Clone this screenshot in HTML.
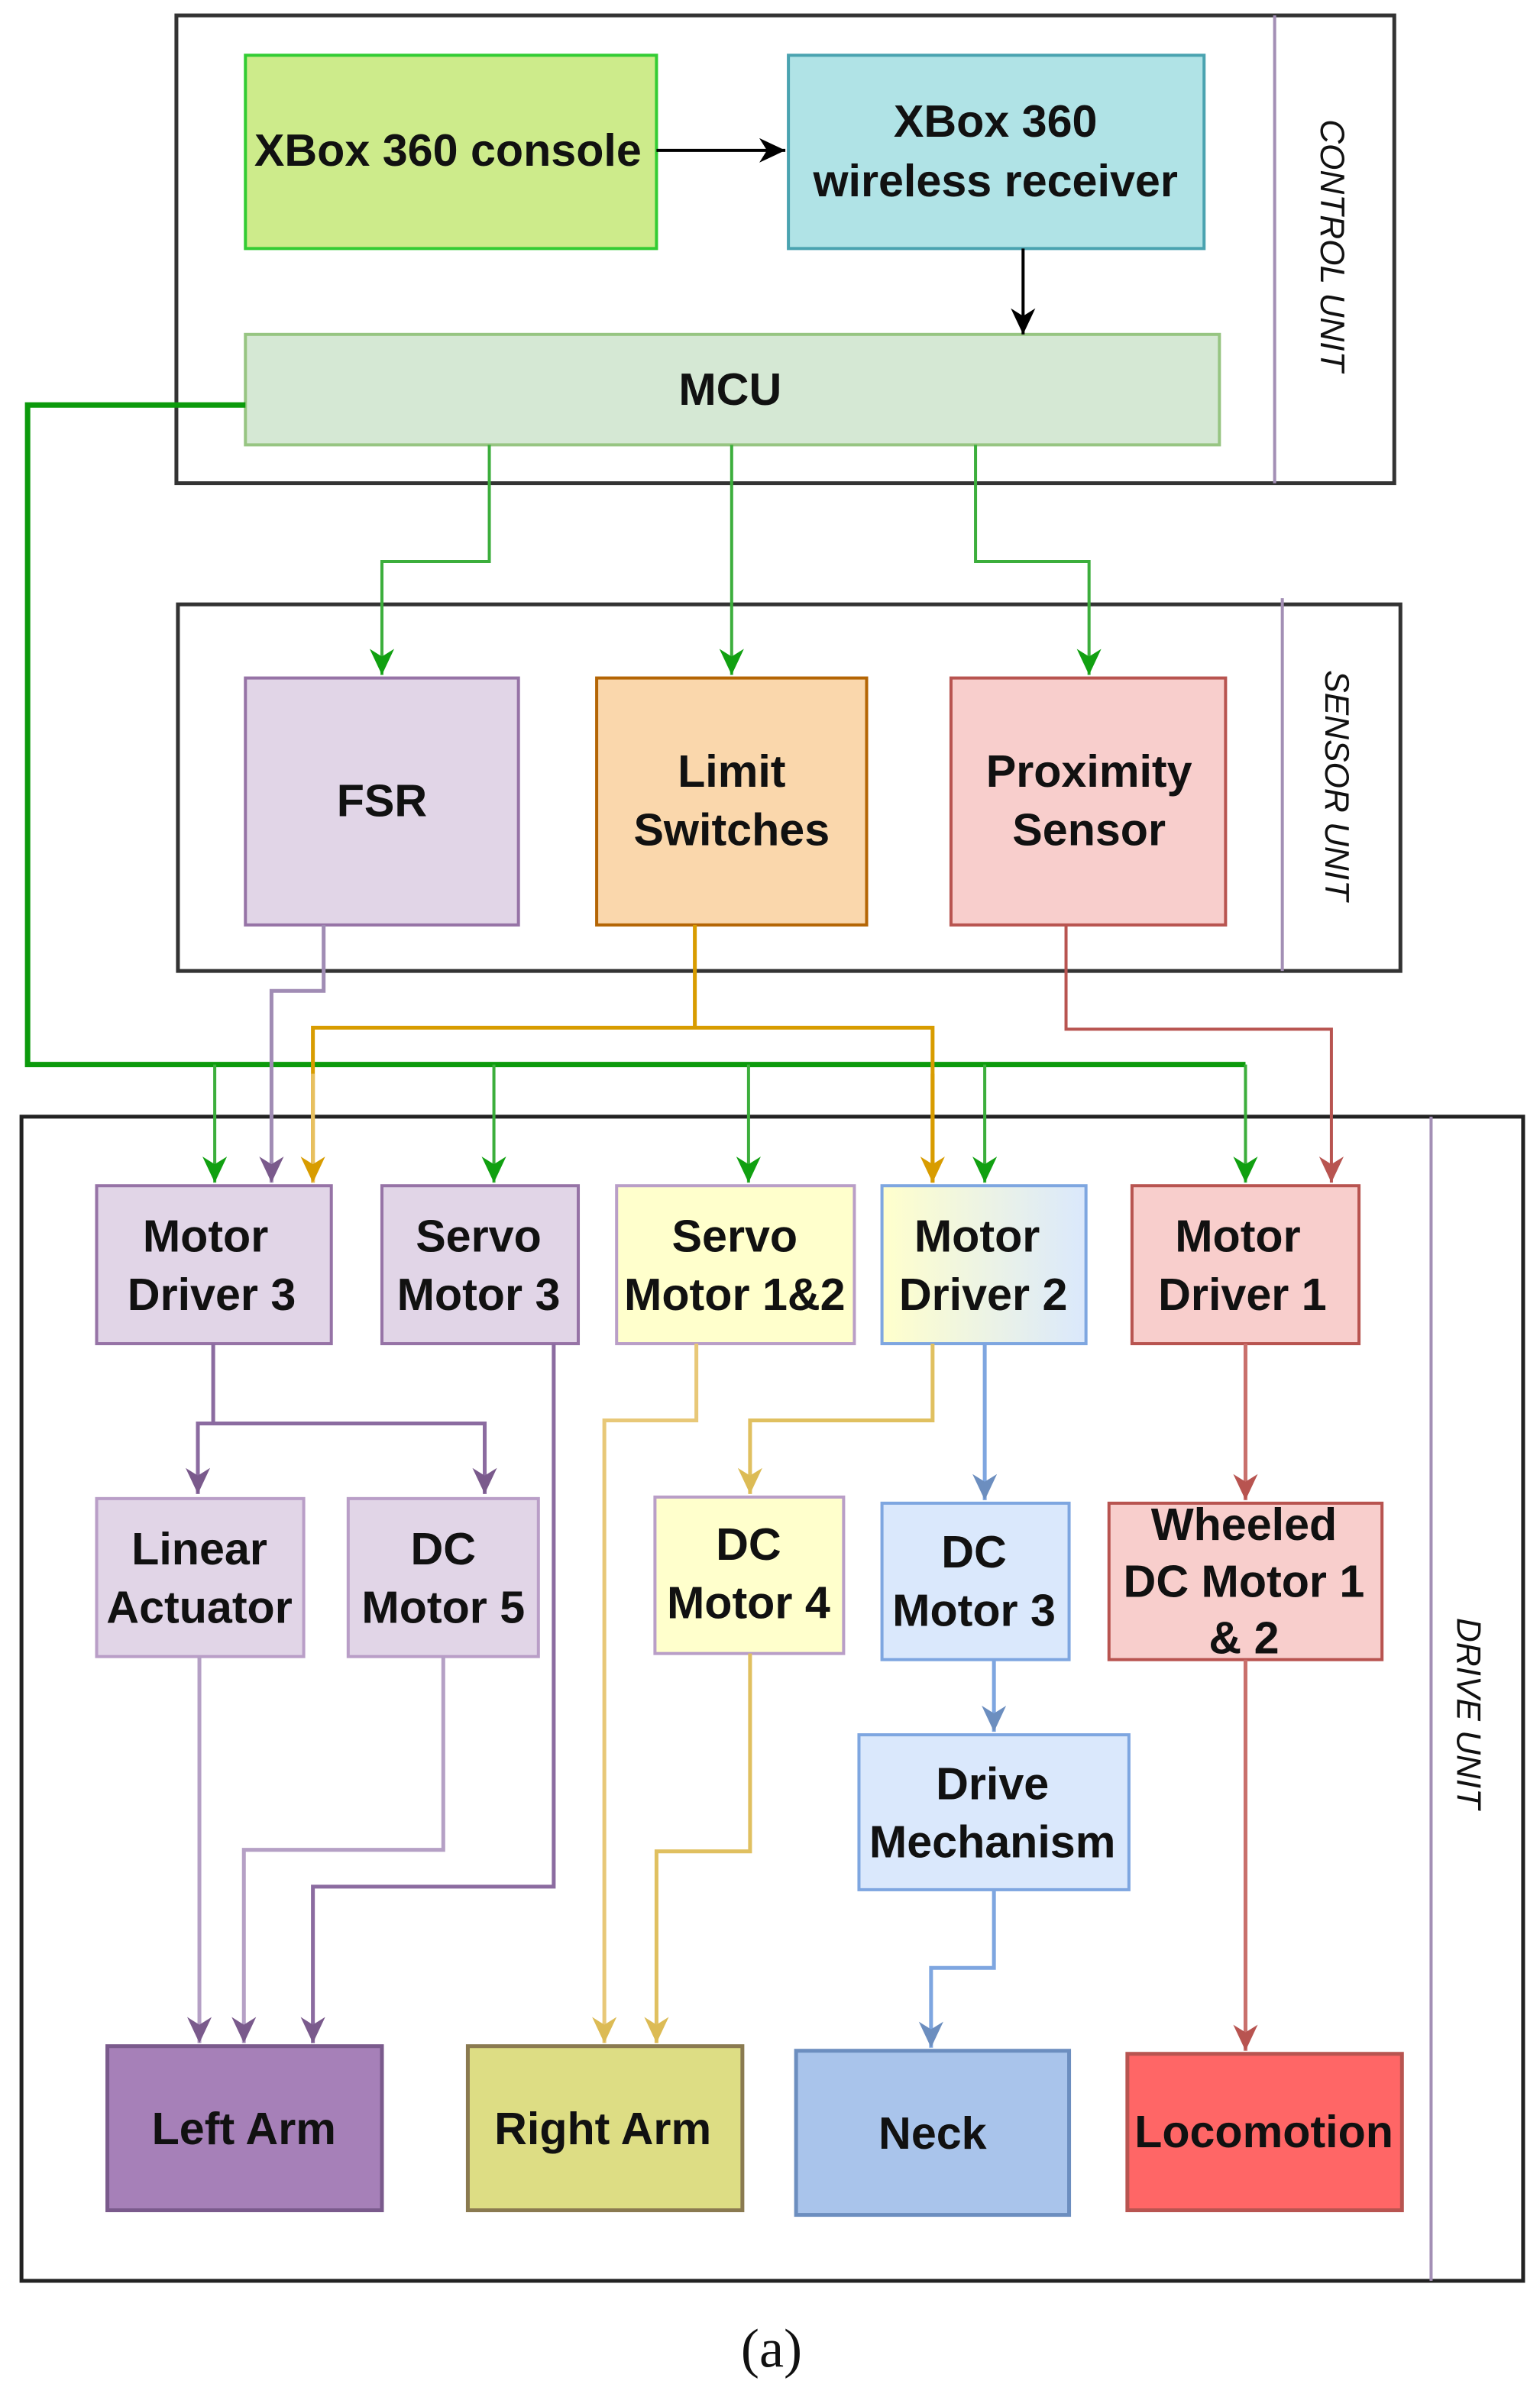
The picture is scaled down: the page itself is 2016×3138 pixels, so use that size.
<!DOCTYPE html>
<html><head><meta charset="utf-8"><style>
html,body{margin:0;padding:0;background:#fff;}
svg{display:block;}
text{font-family:"Liberation Sans",Arial,sans-serif;font-weight:bold;fill:#111;}
.t{font-size:29.5px;}
</style></head><body>
<svg width="2016" height="3138" viewBox="0 0 1004 1562.7" xmlns="http://www.w3.org/2000/svg">
<defs>
<linearGradient id="gMD2" x1="0" y1="0" x2="1" y2="0"><stop offset="0" stop-color="#ffffcc"/><stop offset="1" stop-color="#dae8fc"/></linearGradient>
<marker id="aK" markerUnits="userSpaceOnUse" markerWidth="20" markerHeight="20" refX="17" refY="8" orient="auto"><path d="M0,0 L17,8 L0,16 L5,8 Z" fill="#000"/></marker>
<marker id="aG" markerUnits="userSpaceOnUse" markerWidth="20" markerHeight="20" refX="17" refY="8" orient="auto"><path d="M0,0 L17,8 L0,16 L5,8 Z" fill="#11a011"/></marker>
<marker id="aP" markerUnits="userSpaceOnUse" markerWidth="20" markerHeight="20" refX="17" refY="8" orient="auto"><path d="M0,0 L17,8 L0,16 L5,8 Z" fill="#7a5a8c"/></marker>
<marker id="aO" markerUnits="userSpaceOnUse" markerWidth="20" markerHeight="20" refX="17" refY="8" orient="auto"><path d="M0,0 L17,8 L0,16 L5,8 Z" fill="#d89c00"/></marker>
<marker id="aR" markerUnits="userSpaceOnUse" markerWidth="20" markerHeight="20" refX="17" refY="8" orient="auto"><path d="M0,0 L17,8 L0,16 L5,8 Z" fill="#b85450"/></marker>
<marker id="aY" markerUnits="userSpaceOnUse" markerWidth="20" markerHeight="20" refX="17" refY="8" orient="auto"><path d="M0,0 L17,8 L0,16 L5,8 Z" fill="#dcbb55"/></marker>
<marker id="aB" markerUnits="userSpaceOnUse" markerWidth="20" markerHeight="20" refX="17" refY="8" orient="auto"><path d="M0,0 L17,8 L0,16 L5,8 Z" fill="#6c8ebf"/></marker>
</defs>

<rect x="115" y="10" width="794" height="305" fill="#fff" stroke="#333" stroke-width="2.5"/>
<line x1="831" y1="10" x2="831" y2="315" stroke="#a38fb5" stroke-width="2"/>
<text transform="translate(861,160) rotate(90)" text-anchor="middle" font-size="22" style="font-weight:normal;font-style:italic">CONTROL UNIT</text>

<rect x="116" y="394" width="797" height="239" fill="#fff" stroke="#333" stroke-width="2.5"/>
<line x1="836" y1="390" x2="836" y2="633" stroke="#a38fb5" stroke-width="2"/>
<text transform="translate(864,512) rotate(90)" text-anchor="middle" font-size="22" style="font-weight:normal;font-style:italic">SENSOR UNIT</text>

<rect x="14" y="728" width="979" height="759" fill="#fff" stroke="#222" stroke-width="2.5"/>
<line x1="933" y1="728" x2="933" y2="1487" stroke="#a38fb5" stroke-width="2"/>
<text transform="translate(950,1117) rotate(90)" text-anchor="middle" font-size="22" style="font-weight:normal;font-style:italic">DRIVE UNIT</text>

<rect x="160" y="36" width="268" height="126" fill="#cdeb8b" stroke="#33cc33" stroke-width="2"/>
<text class="t" x="292" y="108" text-anchor="middle">XBox 360 console</text>
<rect x="514" y="36" width="271" height="126" fill="#b0e3e6" stroke="#4aa3b0" stroke-width="2"/>
<text class="t" x="649" y="89" text-anchor="middle">XBox 360</text>
<text class="t" x="649" y="128" text-anchor="middle">wireless receiver</text>
<rect x="160" y="218" width="635" height="72" fill="#d5e8d4" stroke="#97c582" stroke-width="2"/>
<text class="t" x="476" y="264" text-anchor="middle">MCU</text>

<line x1="428" y1="98" x2="512" y2="98" stroke="#000" stroke-width="2" marker-end="url(#aK)"/>
<line x1="667" y1="162" x2="667" y2="218" stroke="#000" stroke-width="2" marker-end="url(#aK)"/>

<g fill="none" stroke="#3cae3c" stroke-width="2">
<polyline points="319,290 319,366 249,366 249,440" marker-end="url(#aG)"/>
<polyline points="477,290 477,440" marker-end="url(#aG)"/>
<polyline points="636,290 636,366 710,366 710,440" marker-end="url(#aG)"/>
</g>

<rect x="160" y="442" width="178" height="161" fill="#e1d5e7" stroke="#9673a6" stroke-width="2"/>
<text class="t" x="249" y="532" text-anchor="middle">FSR</text>
<rect x="389" y="442" width="176" height="161" fill="#fad7ac" stroke="#b46504" stroke-width="2"/>
<text class="t" x="477" y="513" text-anchor="middle">Limit</text>
<text class="t" x="477" y="551" text-anchor="middle">Switches</text>
<rect x="620" y="442" width="179" height="161" fill="#f8cecc" stroke="#b85450" stroke-width="2"/>
<text class="t" x="710" y="513" text-anchor="middle">Proximity</text>
<text class="t" x="710" y="551" text-anchor="middle">Sensor</text>

<g fill="none">
<polyline points="160,264 18,264 18,694 812,694" stroke="#0c9a0c" stroke-width="3.5"/>
<g stroke="#3cae3c" stroke-width="2">
<line x1="140" y1="694" x2="140" y2="771" marker-end="url(#aG)"/>
<line x1="322" y1="694" x2="322" y2="771" marker-end="url(#aG)"/>
<line x1="488" y1="694" x2="488" y2="771" marker-end="url(#aG)"/>
<line x1="642" y1="694" x2="642" y2="771" marker-end="url(#aG)"/>
<line x1="812" y1="694" x2="812" y2="771" marker-end="url(#aG)"/>
</g>
<polyline points="211,603 211,646 177,646 177,771" stroke="#a08cb4" stroke-width="2.5" marker-end="url(#aP)"/>
<polyline points="453,603 453,670" stroke="#d89c00" stroke-width="2.5"/>
<polyline points="204,771 204,670 608,670 608,771" stroke="#d89c00" stroke-width="2.5"/>
<line x1="204" y1="700" x2="204" y2="771" stroke="#e8c060" stroke-width="2.5" marker-end="url(#aO)"/>
<line x1="608" y1="700" x2="608" y2="771" stroke="#d89c00" stroke-width="2.5" marker-end="url(#aO)"/>
<polyline points="695,603 695,671 868,671 868,771" stroke="#b85450" stroke-width="2" marker-end="url(#aR)"/>
</g>

<rect x="63" y="773" width="153" height="103" fill="#e1d5e7" stroke="#9673a6" stroke-width="2"/>
<text class="t" x="134" y="816" text-anchor="middle">Motor</text>
<text class="t" x="138" y="854" text-anchor="middle">Driver 3</text>
<rect x="249" y="773" width="128" height="103" fill="#e1d5e7" stroke="#9673a6" stroke-width="2"/>
<text class="t" x="312" y="816" text-anchor="middle">Servo</text>
<text class="t" x="312" y="854" text-anchor="middle">Motor 3</text>
<rect x="402" y="773" width="155" height="103" fill="#ffffcc" stroke="#b99ec7" stroke-width="2"/>
<text class="t" x="479" y="816" text-anchor="middle">Servo</text>
<text class="t" x="479" y="854" text-anchor="middle">Motor 1&amp;2</text>
<rect x="575" y="773" width="133" height="103" fill="url(#gMD2)" stroke="#7ea6e0" stroke-width="2"/>
<text class="t" x="637" y="816" text-anchor="middle">Motor</text>
<text class="t" x="641" y="854" text-anchor="middle">Driver 2</text>
<rect x="738" y="773" width="148" height="103" fill="#f8cecc" stroke="#b85450" stroke-width="2"/>
<text class="t" x="807" y="816" text-anchor="middle">Motor</text>
<text class="t" x="810" y="854" text-anchor="middle">Driver 1</text>

<rect x="63" y="977" width="135" height="103" fill="#e1d5e7" stroke="#b99ec7" stroke-width="2"/>
<text class="t" x="130" y="1020" text-anchor="middle">Linear</text>
<text class="t" x="130" y="1058" text-anchor="middle">Actuator</text>
<rect x="227" y="977" width="124" height="103" fill="#e1d5e7" stroke="#b99ec7" stroke-width="2"/>
<text class="t" x="289" y="1020" text-anchor="middle">DC</text>
<text class="t" x="289" y="1058" text-anchor="middle">Motor 5</text>
<rect x="427" y="976" width="123" height="102" fill="#ffffcc" stroke="#b99ec7" stroke-width="2"/>
<text class="t" x="488" y="1017" text-anchor="middle">DC</text>
<text class="t" x="488" y="1055" text-anchor="middle">Motor 4</text>
<rect x="575" y="980" width="122" height="102" fill="#dae8fc" stroke="#7ea6e0" stroke-width="2"/>
<text class="t" x="635" y="1022" text-anchor="middle">DC</text>
<text class="t" x="635" y="1060" text-anchor="middle">Motor 3</text>
<rect x="723" y="980" width="178" height="102" fill="#f8cecc" stroke="#b85450" stroke-width="2"/>
<text class="t" x="811" y="1004" text-anchor="middle">Wheeled</text>
<text class="t" x="811" y="1041" text-anchor="middle">DC Motor 1</text>
<text class="t" x="811" y="1078" text-anchor="middle">&amp; 2</text>
<rect x="560" y="1131" width="176" height="101" fill="#dae8fc" stroke="#7ea6e0" stroke-width="2"/>
<text class="t" x="647" y="1173" text-anchor="middle">Drive</text>
<text class="t" x="647" y="1211" text-anchor="middle">Mechanism</text>

<rect x="70" y="1334" width="179" height="107" fill="#a680b8" stroke="#7a5a8c" stroke-width="2.5"/>
<text class="t" x="159" y="1398" text-anchor="middle">Left Arm</text>
<rect x="305" y="1334" width="179" height="107" fill="#dddd84" stroke="#8a7a50" stroke-width="2.5"/>
<text class="t" x="393" y="1398" text-anchor="middle">Right Arm</text>
<rect x="519" y="1337" width="178" height="107" fill="#a9c4eb" stroke="#6c8ebf" stroke-width="2.5"/>
<text class="t" x="608" y="1401" text-anchor="middle">Neck</text>
<rect x="735" y="1339" width="179" height="102" fill="#ff6666" stroke="#b85450" stroke-width="2.5"/>
<text class="t" x="824" y="1400" text-anchor="middle">Locomotion</text>

<g fill="none" stroke-width="2.5">
<polyline points="139,876 139,928 129,928 129,974" stroke="#8b6ba0" marker-end="url(#aP)"/>
<polyline points="139,928 316,928 316,974" stroke="#8b6ba0" marker-end="url(#aP)"/>
<polyline points="130,1080 130,1332" stroke="#b5a0c5" marker-end="url(#aP)"/>
<polyline points="289,1080 289,1206 159,1206 159,1332" stroke="#b5a0c5" marker-end="url(#aP)"/>
<polyline points="361,876 361,1230 204,1230 204,1332" stroke="#8b6ba0" marker-end="url(#aP)"/>
<polyline points="454,876 454,926 394,926 394,1332" stroke="#e8c878" marker-end="url(#aY)"/>
<polyline points="489,1078 489,1207 428,1207 428,1332" stroke="#e0c060" marker-end="url(#aY)"/>
<polyline points="608,876 608,926 489,926 489,974" stroke="#e0c060" marker-end="url(#aY)"/>
<polyline points="642,876 642,978" stroke="#7ea6e0" marker-end="url(#aB)"/>
<polyline points="648,1082 648,1129" stroke="#7ea6e0" marker-end="url(#aB)"/>
<polyline points="648,1232 648,1283 607,1283 607,1335" stroke="#7ea6e0" marker-end="url(#aB)"/>
<polyline points="812,876 812,978" stroke="#c9706c" marker-end="url(#aR)"/>
<polyline points="812,1082 812,1337" stroke="#c9706c" marker-end="url(#aR)"/>
</g>

<text x="503" y="1543" text-anchor="middle" font-size="36" style="font-family:'Liberation Serif',serif;font-weight:normal">(a)</text>
</svg>
</body></html>
